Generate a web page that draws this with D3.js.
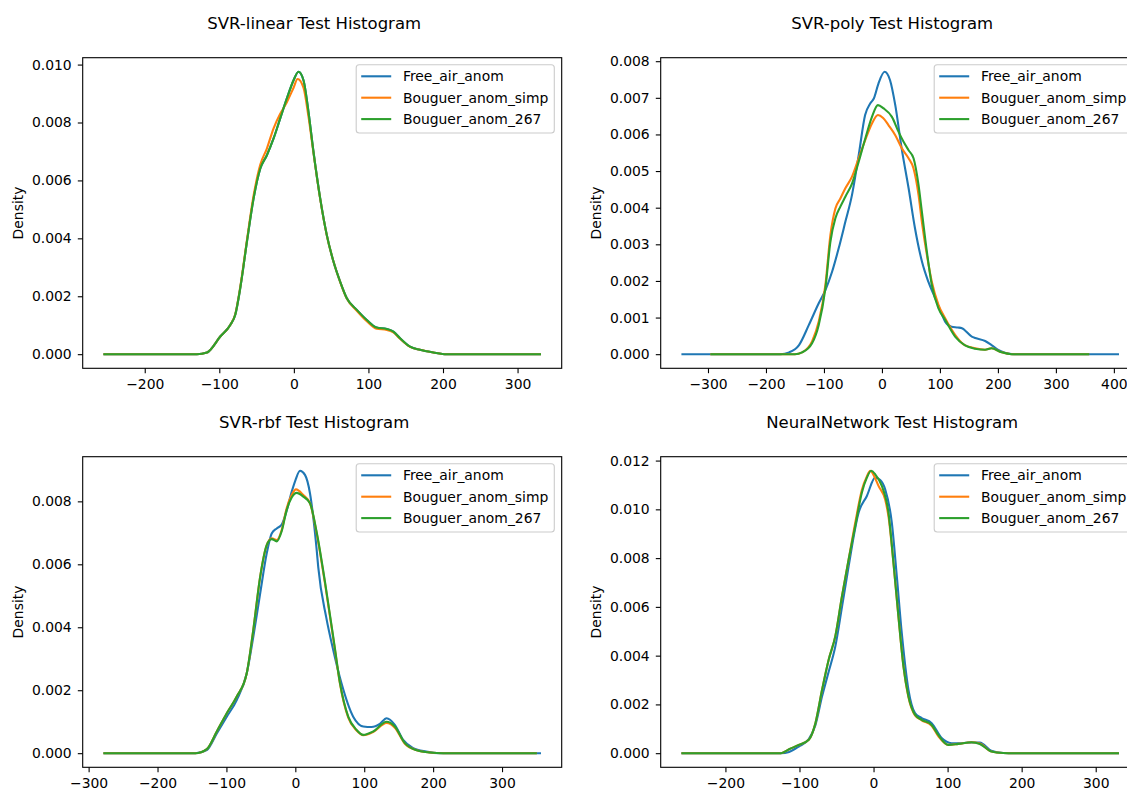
<!DOCTYPE html>
<html>
<head>
<meta charset="utf-8">
<script src="https://cdn.jsdelivr.net/npm/d3@7"></script>
<style>
  html, body { margin: 0; padding: 0; background: #fff; }
  svg { display: block; font-family: "DejaVu Sans", sans-serif; }
</style>
</head>
<body>
<svg id="chart" width="1127" height="789"></svg>
<script>
// ---------------- DATA ----------------
const seriesNames = ["Free_air_anom", "Bouguer_anom_simp", "Bouguer_anom_267"];
const seriesColors = ["#1f77b4", "#ff7f0e", "#2ca02c"];
const titles = ["SVR-linear Test Histogram", "SVR-poly Test Histogram", "SVR-rbf Test Histogram", "NeuralNetwork Test Histogram"];
const yLabel = "Density";

// SVR-linear densities [value, density]
const lin267 = [[-254,0],[-130,0],[-116.5,0.00006],[-98.7,0.00061],[-85.3,0.00101],[-78.6,0.00136],[-71.9,0.00228],[-62.9,0.00389],[-54,0.00538],[-45,0.00641],[-36.2,0.00687],[-27.2,0.00745],[-18.3,0.00814],[-9.4,0.00883],[-0.4,0.00946],[6.2,0.00975],[12.9,0.00946],[19.6,0.00837],[26.3,0.00699],[35.3,0.00538],[44.2,0.00411],[53.1,0.0032],[62,0.00251],[71,0.00193],[84.4,0.00153],[97.8,0.00118],[111,0.00092],[124.6,0.00087],[133.5,0.00078],[142.4,0.00055],[155.8,0.00026],[169,0.00015],[187,0.00006],[205,0],[330,0]];
const linFree = [[-254,0],[-130,0],[-116.5,0.00006],[-98.7,0.00061],[-85.3,0.00101],[-78.6,0.00136],[-71.9,0.00228],[-62.9,0.00389],[-54,0.00538],[-45,0.00641],[-36.2,0.00687],[-27.2,0.00745],[-18.3,0.00814],[-9.4,0.00883],[-0.4,0.00946],[6.2,0.00975],[12.9,0.00946],[19.6,0.00837],[26.3,0.00699],[35.3,0.00538],[44.2,0.00411],[53.1,0.0032],[62,0.00251],[71,0.00193],[84.4,0.00153],[97.8,0.00118],[111,0.00092],[124.6,0.00087],[133.5,0.00078],[142.4,0.00055],[155.8,0.00026],[169,0.00015],[187,0.00006],[205,0],[330,0]];
const linSimp = [[-254,0],[-130,0],[-116.5,0.00006],[-98.7,0.00061],[-85.3,0.00101],[-78.6,0.00138],[-71.9,0.00232],[-62.9,0.00395],[-54,0.00548],[-45,0.00655],[-36.2,0.0071],[-27.2,0.0078],[-18.3,0.0083],[-9.4,0.0087],[-0.4,0.0092],[5,0.0095],[12.9,0.0092],[19.6,0.0082],[26.3,0.00695],[35.3,0.00536],[44.2,0.0041],[53.1,0.0032],[62,0.0025],[71,0.00192],[84.4,0.0015],[97.8,0.00114],[111,0.00088],[124.6,0.00084],[133.5,0.00075],[142.4,0.00053],[155.8,0.00025],[169,0.00015],[187,0.00006],[205,0],[330,0]];

// SVR-poly densities
const polyFree = [[-344,0],[-175,0],[-160,0.00005],[-143,0.00025],[-126,0.0008],[-109,0.00139],[-97.5,0.00175],[-86,0.00225],[-74.6,0.00289],[-63,0.00362],[-51.6,0.00435],[-40,0.00544],[-29,0.00653],[-20,0.00685],[-14,0.00698],[-6,0.00739],[4.6,0.00771],[14,0.00748],[23,0.0068],[34,0.00562],[46,0.00453],[57,0.00344],[69,0.00253],[80,0.00198],[92,0.00153],[103,0.0011],[109,0.00089],[120,0.00075],[131,0.00073],[138,0.00071],[155,0.00048],[161,0.00044],[178,0.00036],[189,0.00025],[200.6,0.00012],[212,0.00004],[228,0],[407,0]];
const polySimp = [[-294,0],[-150,0],[-137.7,0.00005],[-120.5,0.00035],[-109,0.00089],[-97.5,0.00189],[-88.9,0.00325],[-80.3,0.00398],[-71.7,0.00425],[-63.1,0.00453],[-51.6,0.00485],[-40.2,0.00535],[-28.7,0.00585],[-17.2,0.0063],[-6.9,0.00653],[2,0.00645],[11.5,0.00625],[23,0.00598],[34.4,0.00562],[45.9,0.00535],[54.5,0.00507],[63.1,0.00435],[68.8,0.00362],[77.5,0.00271],[86,0.00198],[97.5,0.00135],[109,0.00098],[126.2,0.00053],[140.6,0.00027],[160.6,0.00016],[177.8,0.00012],[189,0.00016],[206.5,0.00005],[224,0],[355.6,0]];
const poly267 = [[-294,0],[-150,0],[-137.7,0.00005],[-120.5,0.0003],[-109,0.0008],[-97.5,0.0018],[-88.9,0.00307],[-80.3,0.00371],[-71.7,0.00403],[-63.1,0.0043],[-51.6,0.00466],[-40.2,0.00525],[-28.7,0.00589],[-17.2,0.00648],[-6.9,0.0068],[2.9,0.00671],[17.2,0.00648],[28.7,0.00607],[37.3,0.0058],[45.9,0.00557],[54.5,0.00535],[63.1,0.00462],[68.8,0.0039],[77.5,0.0028],[86,0.00189],[97.5,0.00125],[109,0.00094],[126.2,0.00048],[143.4,0.00024],[160.6,0.00015],[177.8,0.00012],[189,0.00016],[206.5,0.00005],[224,0],[355.6,0]];

// SVR-rbf densities
const rbfFree = [[-277,0],[-145,0],[-128.5,0.0001],[-114,0.00063],[-99.5,0.00116],[-85,0.00169],[-70.5,0.00254],[-61,0.0037],[-51,0.00508],[-41.5,0.00635],[-34.3,0.00698],[-27,0.00714],[-20,0.00725],[-12.6,0.0077],[-5.3,0.0083],[0,0.00866],[6.8,0.00897],[14,0.00884],[21.3,0.00825],[26,0.0075],[31,0.00646],[33.3,0.0059],[45,0.0043],[55,0.00328],[67,0.00222],[84,0.00116],[98.6,0.00085],[110.6,0.00083],[122.7,0.00093],[132.4,0.00111],[144.4,0.0009],[156.5,0.00042],[171,0.00016],[190,0.00005],[210,0],[355,0]];
const rbfSimp = [[-277,0],[-145,0],[-128.5,0.00013],[-114,0.00069],[-99.5,0.00127],[-85,0.0018],[-70.5,0.00254],[-61,0.00392],[-51,0.00561],[-41.5,0.00661],[-34.3,0.00683],[-27,0.00677],[-19.8,0.00709],[-12.6,0.00778],[-5.3,0.0082],[1,0.00838],[11.6,0.0082],[21.3,0.00794],[31,0.00698],[43,0.0054],[57.5,0.00328],[64.7,0.00222],[76.8,0.00113],[88.9,0.00072],[98.6,0.00057],[113,0.00067],[132.4,0.00096],[144.4,0.00081],[159,0.0003],[175,0.0001],[195,0.00002],[215,0],[349,0]];
const rbf267 = [[-277,0],[-145,0],[-128.5,0.00013],[-114,0.00069],[-99.5,0.00127],[-85,0.0018],[-70.5,0.00254],[-61,0.00392],[-51,0.00561],[-41.5,0.00661],[-34.3,0.0068],[-27,0.00673],[-19.8,0.00705],[-12.6,0.00772],[-5.3,0.00812],[2,0.00827],[11.6,0.00815],[21.3,0.00794],[31,0.00702],[43,0.00545],[57.5,0.00332],[64.7,0.00224],[76.8,0.00116],[88.9,0.00074],[98.6,0.00058],[113,0.00069],[132.4,0.001],[144.4,0.00085],[159,0.00032],[175,0.0001],[195,0.00002],[215,0],[349,0]];

// NeuralNetwork densities
const nnFree = [[-258,0],[-125,0],[-114,0.00005],[-101,0.00027],[-87.4,0.00058],[-78.5,0.00115],[-69.5,0.00233],[-60.5,0.00335],[-51.6,0.00438],[-42.6,0.006],[-33.6,0.00767],[-20.2,0.00986],[-9,0.01055],[2.2,0.0113],[9,0.0112],[15.7,0.01082],[24.7,0.00945],[31.4,0.00726],[38.1,0.00493],[47.1,0.0026],[56,0.00164],[65,0.00144],[78.5,0.00123],[92,0.00062],[105.4,0.00041],[118.8,0.00041],[132.3,0.00044],[143.5,0.00044],[159,0.0001],[175,0.00001],[190,0],[330,0]];
const nnSimp = [[-258,0],[-125,0],[-114,0.00016],[-101,0.00034],[-87.4,0.00055],[-78.5,0.00123],[-69.5,0.0026],[-60.5,0.00384],[-51.6,0.0048],[-42.6,0.00644],[-33.6,0.00795],[-24.7,0.00945],[-15.7,0.0108],[-9,0.01135],[-4.5,0.01158],[1,0.01135],[6.7,0.01096],[15.7,0.0104],[20.2,0.0097],[26.9,0.0078],[33.6,0.0056],[40.4,0.00356],[47.1,0.0023],[56,0.00155],[65,0.00135],[78.5,0.00112],[87.4,0.0007],[101,0.00034],[114.3,0.00038],[132.3,0.00045],[143.5,0.0004],[159,0.00007],[175,0.00001],[190,0],[330,0]];
const nn267 = [[-258,0],[-125,0],[-114,0.00016],[-101,0.00034],[-87.4,0.00055],[-78.5,0.00123],[-69.5,0.0026],[-60.5,0.00384],[-51.6,0.0048],[-42.6,0.00644],[-33.6,0.00795],[-24.7,0.00932],[-15.7,0.01069],[-9,0.0113],[-3.1,0.01158],[2.2,0.01144],[11.2,0.01096],[20.2,0.00986],[26.9,0.00781],[33.6,0.00562],[40.4,0.00356],[47.1,0.00233],[56,0.00158],[65,0.00137],[78.5,0.00116],[87.4,0.00075],[101,0.00034],[114.3,0.00038],[132.3,0.00045],[143.5,0.00038],[159,0.00007],[175,0.00001],[190,0],[330,0]];

// Tick values
const linXTicks = [-200, -100, 0, 100, 200, 300];
const polyXTicks = [-300, -200, -100, 0, 100, 200, 300, 400];
const rbfXTicks = [-300, -200, -100, 0, 100, 200, 300];
const nnXTicks = [-200, -100, 0, 100, 200, 300];
const linYTicks = [0, 0.002, 0.004, 0.006, 0.008, 0.010];
const polyYTicks = [0, 0.001, 0.002, 0.003, 0.004, 0.005, 0.006, 0.007, 0.008];
const rbfYTicks = [0, 0.002, 0.004, 0.006, 0.008];
const nnYTicks = [0, 0.002, 0.004, 0.006, 0.008, 0.010, 0.012];

// ---------------- LAYOUT ----------------
const panelW = 479, panelH = 310.6;
const panels = [
  { title: titles[0], left: 82.7, top: 57.7, series: [linFree, linSimp, lin267], xTicks: linXTicks, yTicks: linYTicks },
  { title: titles[1], left: 660.7, top: 57.7, series: [polyFree, polySimp, poly267], xTicks: polyXTicks, yTicks: polyYTicks },
  { title: titles[2], left: 82.7, top: 456.7, series: [rbfFree, rbfSimp, rbf267], xTicks: rbfXTicks, yTicks: rbfYTicks },
  { title: titles[3], left: 660.7, top: 456.7, series: [nnFree, nnSimp, nn267], xTicks: nnXTicks, yTicks: nnYTicks }
];

const svg = d3.select("#chart");
const fontSize = 13.9;
const titleSize = 16.5;

panels.forEach(p => {
  const g = svg.append("g").attr("transform", `translate(${p.left},${p.top})`);
  const all = p.series.flat();
  const xe = d3.extent(all, d => d[0]);
  const xr = xe[1] - xe[0];
  const ymax = d3.max(all, d => d[1]);
  const x = d3.scaleLinear().domain([xe[0] - 0.05 * xr, xe[1] + 0.05 * xr]).range([0, panelW]);
  const y = d3.scaleLinear().domain([-0.05 * ymax, ymax * 1.05]).range([panelH, 0]);

  // clip
  const clipId = "clip" + Math.round(p.left) + "_" + Math.round(p.top);
  g.append("clipPath").attr("id", clipId).append("rect").attr("width", panelW).attr("height", panelH);

  const line = d3.line().x(d => x(d[0])).y(d => y(d[1])).curve(d3.curveMonotoneX);
  const lines = g.append("g").attr("clip-path", `url(#${clipId})`);
  p.series.forEach((s, i) => {
    lines.append("path").datum(s)
      .attr("d", line)
      .attr("fill", "none")
      .attr("stroke", seriesColors[i])
      .attr("stroke-width", 2.1)
      .attr("stroke-linejoin", "round")
      .attr("stroke-linecap", "square");
  });

  // axes
  const xAxis = d3.axisBottom(x).tickValues(p.xTicks).tickFormat(d3.format("d")).tickSize(4.9).tickPadding(5.5);
  const yAxis = d3.axisLeft(y).tickValues(p.yTicks).tickFormat(d3.format(".3f")).tickSize(4.9).tickPadding(6.1);
  const gx = g.append("g").attr("transform", `translate(0,${panelH})`).call(xAxis);
  const gy = g.append("g").call(yAxis);
  [gx, gy].forEach(a => {
    a.select(".domain").remove();
    a.selectAll(".tick line").attr("stroke", "#000").attr("stroke-width", 1.1);
    a.selectAll(".tick text").attr("fill", "#000").style("font-size", fontSize + "px").style("font-family", "DejaVu Sans");
  });

  // frame
  g.append("rect").attr("width", panelW).attr("height", panelH)
    .attr("fill", "none").attr("stroke", "#000").attr("stroke-width", 1.1);

  // y label
  g.append("text")
    .attr("transform", `translate(${-59.4},${panelH / 2}) rotate(-90)`)
    .attr("text-anchor", "middle")
    .style("font-size", fontSize + "px")
    .text(yLabel);

  // title
  g.append("text")
    .attr("x", panelW / 2 - 8)
    .attr("y", -29)
    .attr("text-anchor", "middle")
    .style("font-size", titleSize + "px")
    .text(p.title);

  // legend
  const lg = g.append("g");
  const texts = seriesNames.map((n, i) => lg.append("text")
    .attr("y", 18.6 + i * 21.4 + 5)
    .style("font-size", fontSize + "px")
    .text(n));
  const maxW = d3.max(texts, t => t.node().getComputedTextLength());
  const boxW = 46.7 + maxW + 6;
  const boxX = panelW - 7.4 - boxW;
  lg.insert("rect", "text")
    .attr("x", boxX).attr("y", 7)
    .attr("width", boxW).attr("height", 68.3)
    .attr("rx", 3).attr("ry", 3)
    .attr("fill", "#fff").attr("fill-opacity", 0.8)
    .attr("stroke", "#cccccc").attr("stroke-width", 1.1);
  texts.forEach(t => t.attr("x", boxX + 46.7));
  seriesNames.forEach((n, i) => {
    lg.append("line")
      .attr("x1", boxX + 5).attr("x2", boxX + 35)
      .attr("y1", 18.6 + i * 21.4).attr("y2", 18.6 + i * 21.4)
      .attr("stroke", seriesColors[i]).attr("stroke-width", 2.1);
  });
});
</script>
</body>
</html>
